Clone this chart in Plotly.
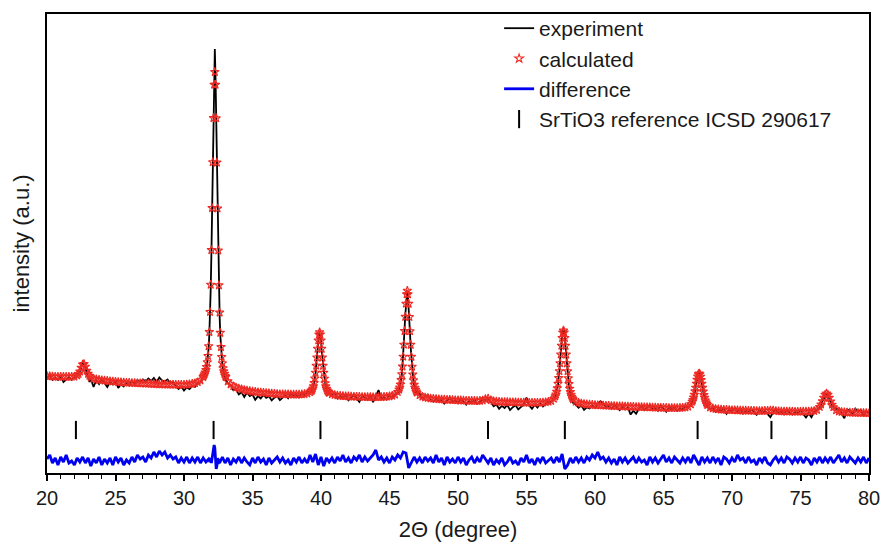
import plotly.graph_objects as go

# Rietveld refinement of an SrTiO3 powder pattern (Cu K-alpha, 2-theta scan).
# Each series is stored as scan segments: (start 2-theta, step, intensities).

EXPERIMENT = [
    (20.0, 0.2, [95, 98, 93, 95, 93, 97, 91, 94, 96, 93, 95.5, 99]),
    (22.3, 0.1, [98, 102.5, 105, 109.5, 108, 106, 100, 96, 91]),
    (23.2, 0.2, [94, 86, 93, 89, 94, 89.5, 86, 91, 88.5, 92.5,
                 85, 89, 86.5, 90.5, 87.5, 92, 89, 93, 90.5, 93.5,
                 91.5, 94.5, 92, 95, 91, 95.5, 92.5, 91.5, 93.5, 89.5,
                 91.5, 87.5, 84, 86.5, 82.5, 85.5, 84, 87, 86, 90,
                 90.5, 97]),
    (31.45, 0.05, [96, 99, 99, 104, 105, 111, 116, 125, 139, 158,
                   184, 219, 262, 310, 360, 402, 424, 396, 352, 305,
                   258, 216, 183, 157, 138, 124, 115, 108, 103, 99,
                   97, 95, 93]),
    (33.2, 0.2, [89.7, 87.7, 82.9, 83.6, 78.6, 80.8, 76.1, 80.5, 77.0, 78.5,
                 73.2, 76.9, 74.6, 78.3, 75.1, 76.8, 72.6, 75.3, 77.1, 72.9,
                 75.9, 77.8, 74.7, 79.6, 76.5, 78.5, 75.6, 79.7, 78.0, 81.6,
                 80.8]),
    (39.3, 0.05, [81, 84, 83, 87, 89, 95, 99, 108, 114, 125,
                  131, 139, 139, 137, 133, 122, 116, 105, 101, 93,
                  90, 85, 85, 81, 82, 79, 80]),
    (40.8, 0.2, [77.8, 80.1, 74.6, 77.2, 75.0, 77.8, 72.7, 75.5, 78.4, 74.3,
                 71.2, 77.1, 75.1, 73.0, 78.0, 70.9, 76.9, 83.0, 74.0, 76.2,
                 73.4, 77.7, 75.3, 78.5, 80.1]),
    (45.7, 0.05, [82, 87, 88, 95, 98, 108, 117, 131, 144, 158,
                  170, 180, 181, 176, 166, 152, 139, 125, 114, 104,
                  97, 91, 88, 84, 84, 80, 81]),
    (47.2, 0.2, [78.8, 74.4, 76.6, 78.1, 73.6, 71.3, 75.1, 71.8, 73.6, 69.5,
                 72.3, 75.2, 71.0, 72.9, 69.8, 73.7, 71.5, 68.4, 72.3, 70.2,
                 73.2, 69.1, 71.2, 73.6, 73.0, 74.5, 70.9, 66.8, 68.5, 64.3,
                 67.1, 65.0, 68.0, 62.9, 65.8, 67.7, 63.6, 66.5, 68.5, 75.4,
                 67.4, 64.3, 68.3, 65.4, 69.4, 66.6, 68.9, 71.4, 71.2, 75.3]),
    (57.1, 0.05, [76, 80, 80, 86, 88, 97, 101, 112, 118, 130,
                  136, 144, 145, 142, 133, 126, 116, 108, 99, 93,
                  87, 83, 78, 77, 73, 73, 70]),
    (58.6, 0.2, [68.3, 65.3, 67.6, 63.1, 65.7, 64.5, 67.2, 65.0, 68.9, 71.7,
                 69.6, 65.4, 67.3, 64.2, 68.1, 64.9, 62.8, 66.7, 63.6, 65.5,
                 58.4, 62.3, 59.2, 64.1, 67.0, 62.9, 64.9, 67.8, 63.7, 65.5,
                 62.4, 67.4, 64.3, 61.2, 66.2, 63.1, 66.1, 62.1, 65.2, 63.4,
                 66.7, 65.4, 68.7]),
    (67.1, 0.05, [70, 74, 75, 79, 81, 86, 89, 94, 96, 100,
                  99, 99, 95, 93, 88, 85, 80, 78, 74, 72,
                  69, 69, 66]),
    (68.4, 0.2, [63.6, 65.7, 61.2, 63.8, 61.5, 64.4, 59.2, 63.1, 61.9, 64.8,
                 60.7, 63.6, 59.5, 62.5, 60.4, 63.3, 61.2, 58.2, 63.1, 60.1,
                 62.2, 59.4, 55.7, 60.6, 63.2, 59.9, 61.7, 58.6, 62.6, 60.6,
                 58.5, 61.4, 59.4, 62.4, 58.5, 55.5, 59.6, 55.8, 61.1, 63.3,
                 65.1]),
    (76.5, 0.1, [67, 72, 74, 79, 79, 78, 74, 71, 67, 66]),
    (77.6, 0.2, [63.8, 64.6, 60.1, 54.8, 63.6, 62.5, 58.3, 64.3, 61.2, 63.1,
                 57.1, 62.0, 59.9]),
]

CALCULATED = [
    (20.0, 0.2, [97.0, 96.8, 96.6, 96.4, 96.2, 96.4, 96.3, 96.2, 96.2, 96.3, 96.5, 97.7]),
    (22.3, 0.1, [99.1, 101.5, 105.2, 108.5, 109.1, 106.4, 102.3, 99.2, 97.3]),
    (23.2, 0.2, [95.6, 94.3, 93.7, 93.2, 92.8, 92.5, 92.2, 91.9, 91.6, 91.4,
                 91.0, 90.8, 90.6, 90.4, 90.3, 90.1, 90.0, 89.8, 89.7, 89.6,
                 89.4, 89.3, 89.1, 89.0, 88.9, 88.75, 88.7, 88.55, 88.5, 88.4,
                 88.3, 88.3, 88.2, 88.3, 88.4, 88.5, 88.8, 89.2, 89.9, 90.9,
                 92.7, 96.0]),
    (31.45, 0.05, [97.4, 98.7, 100.5, 103.0, 106.1, 110.8, 117.1, 126.8, 141.0, 161.1,
                   188.3, 223.0, 265.0, 310.8, 355.0, 388.4, 401.0, 388.3, 354.8, 310.5,
                   264.6, 222.6, 187.7, 160.5, 140.2, 126.0, 116.1, 109.8, 104.9, 101.8,
                   99.2, 97.3, 96.0]),
    (33.2, 0.2, [91.7, 88.7, 86.9, 85.6, 84.6, 83.8, 83.1, 82.5, 82.0, 81.5,
                 81.2, 80.9, 80.6, 80.3, 80.1, 79.8, 79.6, 79.3, 79.1, 78.9,
                 78.9, 78.8, 78.7, 78.6, 78.5, 78.5, 78.6, 78.7, 79.0, 79.6,
                 80.8]),
    (39.3, 0.05, [82.1, 83.0, 84.6, 86.9, 90.1, 94.6, 100.3, 107.3, 115.6, 124.3,
                  132.6, 138.6, 140.9, 138.6, 132.5, 124.2, 115.5, 107.2, 100.2, 94.4,
                  89.9, 86.7, 84.4, 82.7, 81.6, 80.7, 80.2]),
    (40.8, 0.2, [78.8, 78.1, 77.6, 77.2, 77.0, 76.8, 76.7, 76.5, 76.4, 76.3,
                 76.2, 76.1, 76.1, 76.0, 76.0, 75.9, 75.9, 76.0, 76.0, 76.2,
                 76.4, 76.7, 77.3, 78.5, 81.1]),
    (45.7, 0.05, [83.5, 85.6, 88.6, 93.0, 98.8, 106.5, 116.4, 128.4, 142.0, 156.2,
                  169.3, 178.8, 182.3, 178.7, 169.2, 156.1, 141.8, 128.2, 116.2, 106.3,
                  98.5, 92.7, 88.3, 85.3, 83.2, 81.6, 80.4]),
    (47.2, 0.2, [77.8, 76.4, 75.6, 75.1, 74.6, 74.3, 74.1, 73.8, 73.6, 73.5,
                 73.3, 73.2, 73.0, 72.9, 72.8, 72.7, 72.5, 72.4, 72.3, 72.2,
                 72.2, 72.1, 72.2, 72.6, 74.0, 74.5, 72.9, 71.8, 71.5, 71.3,
                 71.1, 71.0, 71.0, 70.9, 70.8, 70.7, 70.6, 70.5, 70.45, 70.4,
                 70.35, 70.3, 70.3, 70.35, 70.4, 70.6, 70.9, 71.4, 72.2, 74.3]),
    (57.1, 0.05, [76.7, 78.6, 81.3, 84.7, 89.2, 95.0, 101.9, 109.8, 118.6, 127.3,
                  135.1, 140.6, 142.6, 140.6, 135.1, 127.2, 118.5, 109.7, 101.8, 94.8,
                  89.0, 84.4, 81.0, 78.3, 76.4, 74.9, 73.7]),
    (58.6, 0.2, [71.3, 70.3, 69.6, 69.1, 68.7, 68.45, 68.2, 68.0, 67.85, 67.7,
                 67.55, 67.4, 67.3, 67.15, 67.05, 66.9, 66.8, 66.7, 66.6, 66.45,
                 66.35, 66.25, 66.15, 66.1, 66.0, 65.9, 65.85, 65.75, 65.65, 65.5,
                 65.4, 65.35, 65.25, 65.2, 65.15, 65.1, 65.1, 65.1, 65.2, 65.35,
                 65.7, 66.4, 68.7]),
    (67.1, 0.05, [71.3, 73.1, 75.5, 78.4, 81.7, 85.4, 89.4, 93.2, 96.5, 98.8,
                  99.6, 98.8, 96.4, 93.0, 89.2, 85.2, 81.5, 78.1, 75.2, 72.8,
                  70.8, 69.3, 68.0]),
    (68.4, 0.2, [65.6, 64.7, 64.15, 63.8, 63.5, 63.35, 63.2, 63.05, 62.9, 62.8,
                 62.7, 62.6, 62.5, 62.45, 62.4, 62.3, 62.2, 62.15, 62.1, 62.05,
                 62.2, 62.4, 62.65, 62.6, 62.15, 61.9, 61.65, 61.6, 61.55, 61.55,
                 61.5, 61.4, 61.4, 61.4, 61.45, 61.5, 61.55, 61.75, 62.1, 63.25,
                 66.1]),
    (76.5, 0.1, [68.6, 71.8, 75.3, 78.3, 79.5, 78.3, 75.2, 71.6, 68.4, 65.8]),
    (77.6, 0.2, [62.8, 61.55, 61.1, 60.8, 60.6, 60.45, 60.3, 60.25, 60.15, 60.1,
                 60.05, 60.0, 59.9]),
]

# residual (observed - calculated)
DIFFERENCE = [
    (20.0, 0.2, [1, 5, -3, 2, -5, 3, -2, 5, -3, -1,
                 -5, 2, -2, 3, -3, 2, -6, 1, -3, 3,
                 -5, 1, -3, 2, -5, 3, -2, 2, -5, 0,
                 -3, 3, -2, 5, 1, 3, -2, 5, 2, 8,
                 3, 9, 5, 8, 2, 5, 1, 3, -3, 2,
                 -2, 3, -3, 2, -2, 3, -3, 2, -2, 1]),
    (31.9, 0.05, [-2, 2, -3, 3, 6, 10, 15, 12, 2, -9, -6, 2, -4, 1, -3]),
    (32.8, 0.2, [3, -3, 2, -5, 1, -2, 3, -3, 2, -2,
                 -5, 2, -3, 3, -2, 1, -5, 2, -3, 0,
                 3, -2, 2, -3, 0, -5, 2, -2, 3, -3,
                 1, -3, 5, -2, 6, -5, 3, -6, 2, -2,
                 2, -3, 3, -1, 5, -2, 2, -3, 3, 0,
                 5, -2, 3, -1, 2, 5, 10, 0, 3, -2,
                 2, -3, 3, 0, 5, 2, 8, 7, -8, -2,
                 3, -2, 2, -3, 3, -1, 2, -3, 5, -2,
                 2, -5, 3, -2, 1, -3, 3, -2, 2, -5,
                 0, 3, -3, 2, -2, 5, 1, -3, 2, -5,
                 0, -3, 2, -5, -2, 3, -3, -1, -5, 2,
                 -2, 5, -3, 1, -5, 2, -2, 3, -3, 0,
                 2, -3, 3, -2, 6, -9, -5, 2, -3, 3,
                 -2, 2, -3, 3, 0, 5, 2, 8, 1, 3,
                 -2, 2, -3, 1, -5, 3, -2, 2, -3, 0,
                 3, -3, 2, -2, 0, -5, 3, -2, 2, -3,
                 1, 5, -2, 2, -3, 3, 0, -3, 2, -2,
                 3, -3, 5, 0, -5, 3, -2, 2, -3, 3,
                 -2, 2, -5, 3, 1, -3, 2, -2, 5, 0,
                 2, -3, 3, -2, 0, -5, 2, -2, 3, -3,
                 -5, 0, 3, -2, 2, -3, 3, 1, -3, 2,
                 -2, 3, -3, 2, 0, -5, 2, -2, 3, -3,
                 2, -2, 3, -3, 1, 5, -2, 2, -3, 3,
                 0, -3, 2, -2, 3, -3, 2]),
]

# SrTiO3 reflection positions (ICSD 290617)
REFERENCE_2THETA = [22.11, 32.16, 39.96, 46.29, 52.19, 57.80, 67.49, 72.88, 76.88]

DIFF_OFFSET = 13     # vertical shift of the residual curve
REF_ROW = 43         # height of the reflection-marker row
FONT = "Liberation Sans, Arial, Helvetica, sans-serif"
INK = "#1a1a1a"


def expand(segments):
    xs, ys = [], []
    for start, step, values in segments:
        for i, v in enumerate(values):
            xs.append(round(start + i * step, 3))
            ys.append(v)
    return xs, ys


tt_exp, i_exp = expand(EXPERIMENT)
tt_calc, i_calc = expand(CALCULATED)
tt_diff, i_diff = expand(DIFFERENCE)
i_diff = [v + DIFF_OFFSET for v in i_diff]

fig = go.Figure()
fig.add_trace(go.Scatter(
    x=tt_exp, y=i_exp, mode="lines", name="experiment",
    line=dict(color="black", width=1.8)))
fig.add_trace(go.Scatter(
    x=tt_calc, y=i_calc, mode="markers", name="calculated",
    marker=dict(symbol="star-open", size=6.5, color="#ee2a24",
                line=dict(width=1.1, color="#ee2a24"))))
fig.add_trace(go.Scatter(
    x=tt_diff, y=i_diff, mode="lines", name="difference",
    line=dict(color="#0000f0", width=2.8)))
fig.add_trace(go.Scatter(
    x=REFERENCE_2THETA, y=[REF_ROW] * len(REFERENCE_2THETA), mode="markers",
    name="SrTiO3 reference ICSD 290617",
    marker=dict(symbol="line-ns", size=13, color="black",
                line=dict(width=2, color="black"))))

fig.update_layout(
    width=880, height=544,
    margin=dict(l=47, r=11, t=14, b=71, autoexpand=False),
    paper_bgcolor="white", plot_bgcolor="white",
    font=dict(family=FONT, size=20, color=INK),
    showlegend=True,
    legend=dict(x=0.55, y=1.013, xanchor="left", yanchor="top",
                bgcolor="rgba(0,0,0,0)", borderwidth=0,
                font=dict(family=FONT, size=21, color=INK),
                tracegroupgap=0),
    xaxis=dict(
        range=[20, 80.0001], tickvals=list(range(20, 81, 5)),
        ticklabeloverflow="allow", automargin=False,
        showline=True, mirror=True, linecolor="black", linewidth=2,
        ticks="outside", ticklen=6, tickwidth=1.5, tickcolor="black",
        minor=dict(dtick=1, tick0=20, ticks="outside", ticklen=4,
                   tickwidth=1.2, tickcolor="black"),
        showgrid=False, zeroline=False,
        tickfont=dict(family=FONT, size=20, color=INK),
        title=dict(text="2\u0398 (degree)", standoff=14,
                   font=dict(family=FONT, size=22, color=INK)),
    ),
    yaxis=dict(
        range=[0, 459], automargin=False,
        showline=True, mirror=True, linecolor="black", linewidth=2,
        ticks="", showticklabels=False, showgrid=False, zeroline=False,
        title=dict(text="intensity (a.u.)", standoff=9,
                   font=dict(family=FONT, size=22, color=INK)),
    ),
)

fig.write_html("out.html")
